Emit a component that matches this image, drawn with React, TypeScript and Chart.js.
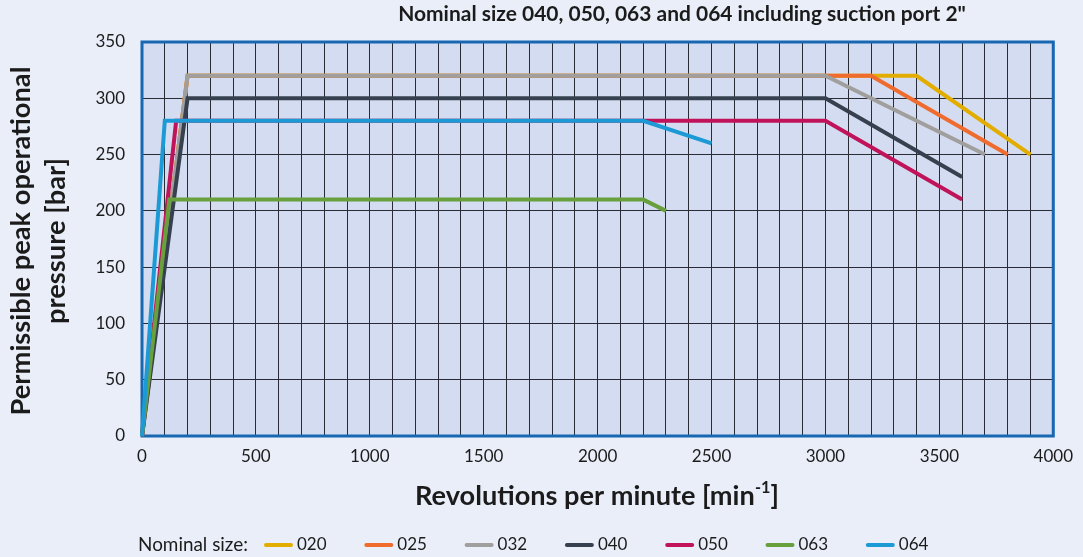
import React, { useEffect, useRef } from "react";
import { Chart, registerables } from "chart.js";

Chart.register(...registerables);

// ---- data ----
const seriesNames = ["020", "025", "032", "040", "050", "063", "064"];
const seriesColors = ["#e3ad00", "#ef6c2e", "#a09f9d", "#36404f", "#c0135a", "#67a03c", "#1c9ad6"];

const rpm020 = [0, 200, 3400, 3900];
const bar020 = [0, 320, 320, 250];
const rpm025 = [0, 200, 3200, 3800];
const bar025 = [0, 320, 320, 250];
const rpm032 = [0, 200, 3000, 3700];
const bar032 = [0, 320, 320, 250];
const rpm040 = [0, 200, 3000, 3600];
const bar040 = [0, 300, 300, 230];
const rpm050 = [0, 150, 3000, 3600];
const bar050 = [0, 280, 280, 210];
const rpm063 = [0, 120, 2200, 2300];
const bar063 = [0, 210, 210, 200];
const rpm064 = [0, 100, 2200, 2500];
const bar064 = [0, 280, 280, 260];

const seriesRpm = [rpm020, rpm025, rpm032, rpm040, rpm050, rpm063, rpm064];
const seriesBar = [bar020, bar025, bar032, bar040, bar050, bar063, bar064];

const xTickStep = 100;
const xLabelStep = 500;
const yTickStep = 50;

const titleText = 'Nominal size 040, 050, 063 and 064 including suction port 2"';
const yTitleLines = ["Permissible peak operational", "pressure [bar]"];
const xTitleMain = "Revolutions per minute [min";
const xTitleSup = "-1";
const xTitleEnd = "]";
const legendLabel = "Nominal size:";

const FAMILY = "Lato, 'Open Sans', sans-serif";
const PAGE_BG = "#e9eef8";
const PLOT_BG = "#d3dcf0";
const FRAME = "#1767b2";
const TEXT = "#1b1b1b";

function fitSize(ctx: CanvasRenderingContext2D, text: string, weight: string, target: number) {
  ctx.font = `${weight} 100px ${FAMILY}`;
  const w = ctx.measureText(text).width;
  return (100 * target) / w;
}

const decorPlugin = {
  id: "decor",
  beforeDraw(chart: any) {
    const { ctx, chartArea: a } = chart;
    ctx.save();
    ctx.fillStyle = PAGE_BG;
    ctx.fillRect(0, 0, chart.width, chart.height);
    ctx.fillStyle = PLOT_BG;
    ctx.fillRect(a.left, a.top, a.right - a.left, a.bottom - a.top);
    ctx.restore();
  },
  beforeDatasetsDraw(chart: any) {
    const { ctx, chartArea: a } = chart;
    ctx.save();
    ctx.strokeStyle = FRAME;
    ctx.lineWidth = 3;
    ctx.strokeRect(a.left, a.top, a.right - a.left, a.bottom - a.top);
    ctx.restore();
  },
  afterDraw(chart: any) {
    const { ctx, chartArea: a } = chart;
    ctx.save();
    ctx.fillStyle = TEXT;
    ctx.textBaseline = "middle";

    // Title
    let s = fitSize(ctx, titleText, "bold", 568);
    ctx.font = `bold ${s}px ${FAMILY}`;
    ctx.textAlign = "center";
    ctx.fillText(titleText, 682, 14);

    // Y title
    s = fitSize(ctx, yTitleLines[0], "bold", 349);
    ctx.font = `bold ${s}px ${FAMILY}`;
    const cy = (a.top + a.bottom) / 2 + 2;
    ctx.save();
    ctx.translate(21, cy);
    ctx.rotate(-Math.PI / 2);
    ctx.fillText(yTitleLines[0], 0, 0);
    ctx.restore();
    ctx.save();
    ctx.translate(56, cy);
    ctx.rotate(-Math.PI / 2);
    ctx.fillText(yTitleLines[1], 0, 0);
    ctx.restore();

    // X title with superscript
    ctx.font = `bold 100px ${FAMILY}`;
    const wMain = ctx.measureText(xTitleMain).width;
    const wEnd = ctx.measureText(xTitleEnd).width;
    ctx.font = `bold 60px ${FAMILY}`;
    const wSup = ctx.measureText(xTitleSup).width;
    s = (100 * 364) / (wMain + wEnd + wSup);
    const total = ((wMain + wEnd + wSup) * s) / 100;
    let x = 597 - total / 2;
    const y = 496;
    ctx.textAlign = "left";
    ctx.font = `bold ${s}px ${FAMILY}`;
    ctx.fillText(xTitleMain, x, y);
    x += (wMain * s) / 100;
    ctx.font = `bold ${s * 0.6}px ${FAMILY}`;
    ctx.fillText(xTitleSup, x, y - s * 0.3);
    x += (wSup * s) / 100;
    ctx.font = `bold ${s}px ${FAMILY}`;
    ctx.fillText(xTitleEnd, x, y);

    // Legend
    const ly = 545;
    s = fitSize(ctx, legendLabel, "normal", 110);
    ctx.font = `${s}px ${FAMILY}`;
    ctx.fillText(legendLabel, 138, ly);
    ctx.font = `17px ${FAMILY}`;
    for (let i = 0; i < seriesNames.length; i++) {
      const sx = 266 + i * 100.3;
      ctx.strokeStyle = seriesColors[i];
      ctx.lineWidth = 4;
      ctx.lineCap = "round";
      ctx.beginPath();
      ctx.moveTo(sx, ly);
      ctx.lineTo(sx + 25, ly);
      ctx.stroke();
      ctx.fillStyle = TEXT;
      ctx.fillText(seriesNames[i], sx + 31, ly);
    }
    ctx.restore();
  },
};

export default function App() {
  const ref = useRef<HTMLCanvasElement | null>(null);

  useEffect(() => {
    document.body.style.margin = "0";
    const canvas = ref.current;
    if (!canvas) return;
    const datasets = seriesNames.map((name, i) => ({
      label: name,
      data: seriesRpm[i].map((r, j) => ({ x: r, y: seriesBar[i][j] })),
      borderColor: seriesColors[i],
      backgroundColor: seriesColors[i],
      borderWidth: 4,
      pointRadius: 0,
      tension: 0,
      fill: false,
      order: seriesNames.length - i,
      clip: 4,
    }));

    const tickFont = { family: FAMILY, size: 17 };
    const chart = new Chart(canvas, {
      type: "line",
      data: { datasets },
      options: {
        responsive: false,
        animation: false,
        parsing: true,
        layout: { padding: { top: 42, right: 28, left: 0, bottom: 0 } },
        plugins: {
          legend: { display: false },
          title: { display: false },
          tooltip: { enabled: false },
        },
        scales: {
          x: {
            type: "linear",
            min: 0,
            max: 4000,
            ticks: {
              stepSize: xTickStep,
              autoSkip: false,
              maxRotation: 0,
              minRotation: 0,
              padding: 10,
              color: TEXT,
              font: tickFont,
              callback: (v: any) => (Number(v) % xLabelStep === 0 ? String(v) : ""),
            },
            grid: { color: "#2a2c35", lineWidth: 1, drawTicks: false },
            border: { display: false },
            afterFit: (sc: any) => {
              sc.height = 121;
            },
          },
          y: {
            type: "linear",
            min: 0,
            max: 350,
            ticks: {
              stepSize: yTickStep,
              padding: 17,
              color: TEXT,
              font: tickFont,
            },
            grid: { color: "#2a2c35", lineWidth: 1, drawTicks: false },
            border: { display: false },
            afterFit: (sc: any) => {
              sc.width = 142;
            },
          },
        },
      } as any,
      plugins: [decorPlugin],
    });
    return () => chart.destroy();
  }, []);

  return (
    <div style={{ width: 1083, height: 557, background: PAGE_BG }}>
      <canvas ref={ref} width={1083} height={557} style={{ display: "block" }} />
    </div>
  );
}
